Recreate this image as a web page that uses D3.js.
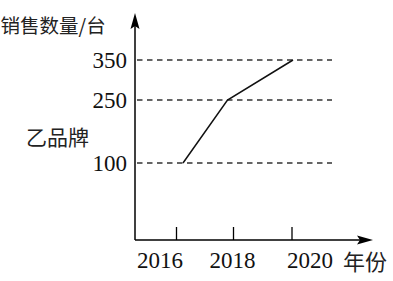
<!DOCTYPE html>
<html><head><meta charset="utf-8">
<script src="https://cdn.jsdelivr.net/npm/d3@7"></script>
<style>html,body{margin:0;padding:0;background:#fff;overflow:hidden}</style>
</head><body>
<script>
const years = [2016, 2018, 2020];
const sales = [100, 250, 350];
const yTicks = [100, 250, 350];
const xTickLabels = ["2016", "2018", "2020"];
const yTitle = "销售数量/台";
const xTitle = "年份";
const seriesName = "乙品牌";

const W = 393, H = 281;
const svg = d3.select("body").append("svg").attr("width", W).attr("height", H);
const ax0 = 135, ay0 = 240;

// piecewise scales matching the drawing
const y = d3.scaleLinear().domain(yTicks).range([163, 100, 60]);
const xPt = d3.scaleLinear().domain(years).range([183, 227.5, 293]);
const xTick = d3.scaleLinear().domain(years).range([176.5, 233.5, 292]);
const xLab = d3.scaleLinear().domain(years).range([160, 232.5, 310]);

const serif = "'Liberation Serif','DejaVu Serif',serif";
const cjk = "'Noto Sans CJK SC','Noto Sans CJK JP',sans-serif";

// dashed guides
svg.append("g").selectAll("line").data(yTicks).join("line")
  .attr("x1", ax0).attr("x2", 332)
  .attr("y1", d => y(d)).attr("y2", d => y(d))
  .attr("stroke", "#333").attr("stroke-width", 1.3)
  .attr("stroke-dasharray", "5.5,4.5").attr("stroke-dashoffset", -2);

// axes
svg.append("line").attr("x1", ax0).attr("x2", ax0).attr("y1", ay0).attr("y2", 20)
  .attr("stroke", "#000").attr("stroke-width", 1.5);
svg.append("line").attr("x1", ax0).attr("x2", 366).attr("y1", ay0).attr("y2", ay0)
  .attr("stroke", "#000").attr("stroke-width", 1.5);
svg.append("path").attr("d", `M${ax0},13 L${ax0+4.5},29 L${ax0},26 L${ax0-4.5},29 Z`).attr("fill", "#000");
svg.append("path").attr("d", `M373,${ay0} L357,${ay0-4.5} L360,${ay0} L357,${ay0+4.5} Z`).attr("fill", "#000");

// x ticks
svg.append("g").selectAll("line").data(years).join("line")
  .attr("x1", d => xTick(d)).attr("x2", d => xTick(d))
  .attr("y1", 227).attr("y2", ay0)
  .attr("stroke", "#000").attr("stroke-width", 1.3);
svg.append("g").selectAll("text").data(years).join("text")
  .attr("x", d => xLab(d)).attr("y", 268)
  .attr("text-anchor", "middle")
  .attr("font-family", serif).attr("font-size", 23).attr("fill", "#111")
  .text((d, i) => xTickLabels[i]);

// y tick labels
svg.append("g").selectAll("text").data(yTicks).join("text")
  .attr("x", 127).attr("y", d => y(d) + 7.5)
  .attr("text-anchor", "end")
  .attr("font-family", serif).attr("font-size", 23).attr("fill", "#111")
  .text(d => d);

// series line
const line = d3.line().x((d, i) => xPt(years[i])).y(d => y(d));
svg.append("path").datum(sales).attr("d", line)
  .attr("fill", "none").attr("stroke", "#111").attr("stroke-width", 1.5);

// titles
svg.append("text").attr("x", 0.5).attr("y", 33)
  .attr("font-family", cjk).attr("font-size", 19.5).attr("fill", "#222").text(yTitle);
svg.append("text").attr("x", 26).attr("y", 145)
  .attr("font-family", cjk).attr("font-size", 21).attr("fill", "#222").text(seriesName);
svg.append("text").attr("x", 343).attr("y", 270)
  .attr("font-family", cjk).attr("font-size", 22).attr("fill", "#222").text(xTitle);
</script>
</body></html>
